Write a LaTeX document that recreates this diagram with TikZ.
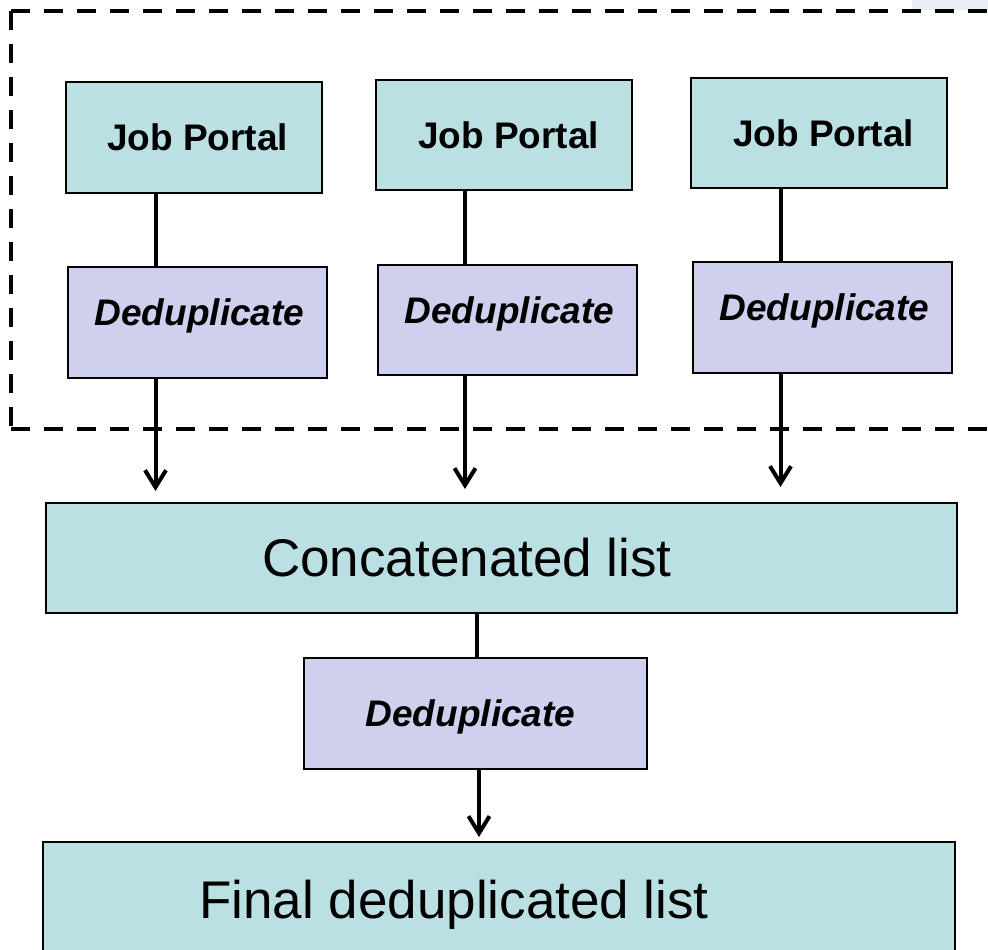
\documentclass[tikz,border=0pt]{standalone}
\usepackage{fontspec}
\setmainfont{Liberation Sans}
\usetikzlibrary{arrows.meta}
\definecolor{jpfill}{HTML}{BBE0E3}
\definecolor{ddfill}{HTML}{CFCFEE}
\definecolor{faint}{HTML}{E9EEF4}
\tikzset{
  box/.style={draw=black, line width=2pt, inner sep=0pt, minimum height=111pt},
  jpbox/.style={box, fill=jpfill, minimum width=256pt},
  ddbox/.style={box, fill=ddfill, minimum width=259pt},
  wide/.style={box, fill=jpfill},
  jptxt/.style={font=\fontsize{37}{40}\selectfont\bfseries, inner sep=0pt},
  ddtxt/.style={font=\fontsize{37}{40}\selectfont\bfseries\itshape, inner sep=0pt},
  bigtxt/.style={font=\fontsize{53}{58}\selectfont, inner sep=0pt},
  conn/.style={line width=4pt, draw=black},
  arr/.style={conn, -{Straight Barb[length=17pt,width=21pt]}},
  dashbox/.style={line width=4pt, dash pattern=on 19pt off 14pt}
}
\begin{document}
\begin{tikzpicture}[x=1pt,y=-1pt]
\useasboundingbox (0,0) rectangle (988,950);
\clip (0,0) rectangle (988,950);
\fill[faint] (912,0) rectangle (988,10);
% dashed group frame
\draw[dashbox] (11,11) -- (988,11);
\draw[dashbox] (11,11) -- (11,429);
\draw[dashbox] (11,429) -- (988,429);
% boxes
\node[jpbox, label={[jptxt, xshift=3.5pt]center:Job Portal}] (jp1) at (194,137.5) {};
\node[jpbox, minimum height=110pt, label={[jptxt, xshift=4.5pt]center:Job Portal}] (jp2) at (504,135) {};
\node[jpbox, minimum height=110pt, label={[jptxt, xshift=4.5pt]center:Job Portal}] (jp3) at (819,133) {};
\node[ddbox, label={[ddtxt, xshift=2pt, yshift=6.4pt]center:Deduplicate}] (d1) at (197.5,322.5) {};
\node[ddbox, minimum height=110pt, label={[ddtxt, xshift=2pt, yshift=6.4pt]center:Deduplicate}] (d2) at (507.5,320) {};
\node[ddbox, label={[ddtxt, xshift=2pt, yshift=6.4pt]center:Deduplicate}] (d3) at (822.5,317.5) {};
\node[wide, minimum width=911pt, minimum height=110pt, label={[bigtxt, xshift=-34.5pt]center:Concatenated list}] (concat) at (501.5,558) {};
\node[ddbox, minimum width=343pt, label={[ddtxt, xshift=-5pt, yshift=-3.6pt]center:Deduplicate}] (d4) at (475.5,713.5) {};
\node[wide, minimum width=912pt, minimum height=126pt, label={[bigtxt, xshift=-45pt]center:Final deduplicated list}] (final) at (499,905) {};
% connector columns
\coordinate (c1) at (155.5,0);
\coordinate (c2) at (465,0);
\coordinate (c3) at (780.5,0);
\coordinate (c4) at (477,0);
\coordinate (c5) at (479,0);
% connectors
\draw[conn] (jp1.south -| c1) -- (d1.north -| c1);
\draw[conn] (jp2.south -| c2) -- (d2.north -| c2);
\draw[conn] (jp3.south -| c3) -- (d3.north -| c3);
\draw[arr, shorten >=11pt] (d1.south -| c1) -- (concat.north -| c1);
\draw[arr, shorten >=13pt] (d2.south -| c2) -- (concat.north -| c2);
\draw[arr, shorten >=15pt] (d3.south -| c3) -- (concat.north -| c3);
\draw[conn] (concat.south -| c4) -- (d4.north -| c4);
\draw[arr, shorten >=4pt] (d4.south -| c5) -- (final.north -| c5);
\end{tikzpicture}
\end{document}
